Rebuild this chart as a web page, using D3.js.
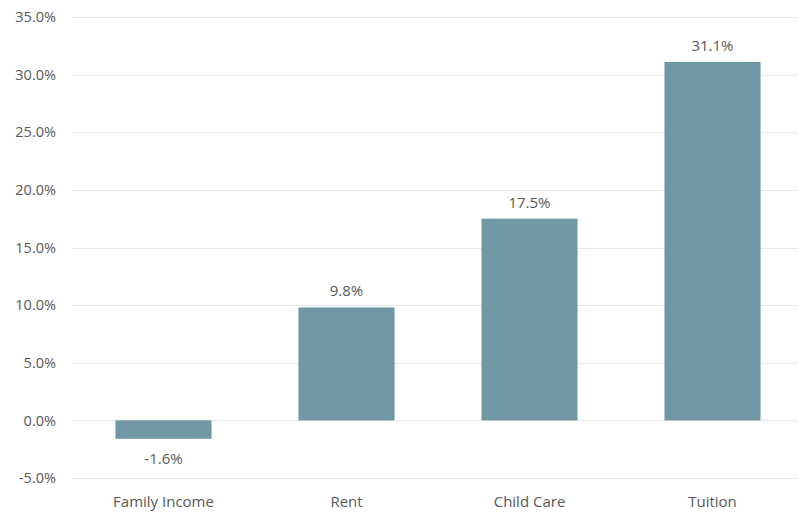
<!DOCTYPE html>
<html>
<head>
<meta charset="utf-8">
<script src="https://cdn.jsdelivr.net/npm/d3@7"></script>
<style>
  html, body { margin: 0; padding: 0; background: #fff; }
  svg { display: block; }
  text { font-family: "Open Sans", "Noto Sans", sans-serif; }
</style>
</head>
<body>
<svg id="chart" width="798" height="514"></svg>
<script>
// Percentage change by cost category
const categories = ["Family Income", "Rent", "Child Care", "Tuition"];
const values = [-1.6, 9.8, 17.5, 31.1];
const yTicks = [-5, 0, 5, 10, 15, 20, 25, 30, 35];

const width = 798, height = 514;
const svg = d3.select("#chart");

const y = d3.scaleLinear().domain([-5, 35]).range([478, 17]);
const x = d3.scaleBand().domain(categories).range([72, 804]).paddingInner(0.475).paddingOuter(0.2375);

const textColor = "#595959";
const fmt = v => v.toFixed(1) + "%";

// Horizontal gridlines
svg.append("g")
  .selectAll("line")
  .data(yTicks)
  .join("line")
  .attr("x1", 72).attr("x2", width)
  .attr("y1", d => Math.round(y(d)) + 0.5)
  .attr("y2", d => Math.round(y(d)) + 0.5)
  .attr("stroke", "#e6e6e6")
  .attr("stroke-width", 1);

// Y axis labels
const yAxis = d3.axisLeft(y).tickValues(yTicks).tickFormat(fmt).tickSize(0).tickPadding(0);
const gy = svg.append("g").attr("transform", "translate(56,0)").call(yAxis);
gy.select(".domain").remove();
gy.selectAll("text")
  .attr("fill", textColor)
  .style("font-size", "14.5px")
  .style("font-family", "'Open Sans', 'Noto Sans', sans-serif");

// Bars
svg.append("g")
  .selectAll("rect")
  .data(values)
  .join("rect")
  .attr("x", (d, i) => x(categories[i]))
  .attr("width", x.bandwidth())
  .attr("y", d => y(Math.max(0, d)))
  .attr("height", d => Math.abs(y(d) - y(0)))
  .attr("fill", "#7097a4");

// Value labels
svg.append("g")
  .selectAll("text")
  .data(values)
  .join("text")
  .attr("x", (d, i) => x(categories[i]) + x.bandwidth() / 2)
  .attr("y", d => d >= 0 ? y(d) - 11 : y(d) + 25)
  .attr("text-anchor", "middle")
  .attr("fill", textColor)
  .style("font-size", "15px")
  .text(fmt);

// Category labels
const xAxis = d3.axisBottom(x).tickSize(0).tickPadding(0);
const gx = svg.append("g").attr("transform", "translate(0,496)").call(xAxis);
gx.select(".domain").remove();
gx.selectAll("text")
  .attr("fill", textColor)
  .style("font-size", "15px")
  .style("font-family", "'Open Sans', 'Noto Sans', sans-serif");
</script>
</body>
</html>
